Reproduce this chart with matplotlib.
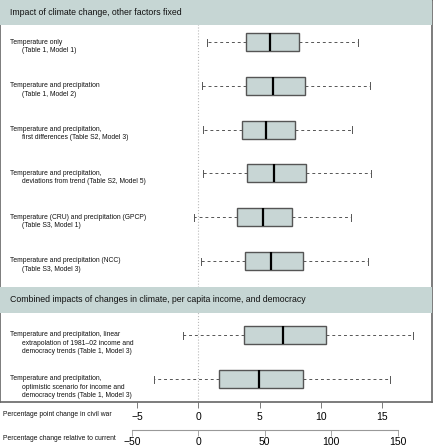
import matplotlib
matplotlib.use("Agg")
import matplotlib.pyplot as plt

plt.rcParams['font.family'] = ['Liberation Sans', 'DejaVu Sans']

headers = ["Impact of climate change, other factors fixed",
           "Combined impacts of changes in climate, per capita income, and democracy"]

labels = [
    "Temperature only\n(Table 1, Model 1)",
    "Temperature and precipitation\n(Table 1, Model 2)",
    "Temperature and precipitation,\nfirst differences (Table S2, Model 3)",
    "Temperature and precipitation,\ndeviations from trend (Table S2, Model 5)",
    "Temperature (CRU) and precipitation (GPCP)\n(Table S3, Model 1)",
    "Temperature and precipitation (NCC)\n(Table S3, Model 3)",
    "Temperature and precipitation, linear\nextrapolation of 1981\u201302 income and\ndemocracy trends (Table 1, Model 3)",
    "Temperature and precipitation,\noptimistic scenario for income and\ndemocracy trends (Table 1, Model 3)",
]

# percentage point change: whisker low, q1, median, q3, whisker high
wlo = [0.71, 0.31, 0.38, 0.38, -0.34, 0.19, -1.25, -3.62]
q1 = [3.88, 3.87, 3.53, 3.94, 3.16, 3.78, 3.74, 1.69]
med = [5.87, 6.10, 5.52, 6.17, 5.28, 5.95, 6.90, 4.96]
q3 = [8.22, 8.70, 7.86, 8.77, 7.62, 8.52, 10.40, 8.52]
whi = [13.06, 14.05, 12.58, 14.08, 12.50, 13.88, 17.50, 15.68]

pp_ticks = [-5, 0, 5, 10, 15]
pct_ticks = [-50, 0, 50, 100, 150]
pct_per_pp = 9.21  # 100% relative change ~ 10.86 pp

band = "#c6d6d4"
boxfill = "#c8d6d5"
edge = "#555555"

fig = plt.figure(figsize=(4.33, 4.47), dpi=100)
ax = fig.add_axes([0.0, 45 / 447, 431.5 / 433, 402 / 447])

# row layout in pixel-like units from the top
ypos = [42 + 43.8 * i for i in range(6)] + [335, 379]

stats = []
for i in range(len(labels)):
    stats.append(dict(whislo=wlo[i], q1=q1[i], med=med[i], q3=q3[i], whishi=whi[i], fliers=[]))

ax.bxp(stats, positions=ypos, widths=18, orientation='horizontal', showfliers=False,
       patch_artist=True, capwidths=7,
       boxprops=dict(facecolor=boxfill, edgecolor=edge, linewidth=1.0),
       medianprops=dict(color="black", linewidth=1.6),
       whiskerprops=dict(color=edge, linewidth=0.7, linestyle=(0, (3, 3))),
       capprops=dict(color=edge, linewidth=0.7))

ax.axvline(0, color="#bbbbbb", linestyle=":", linewidth=0.8, zorder=0)
ax.axhspan(0, 25, color=band, zorder=3, linewidth=0)
ax.axhspan(287, 313, color=band, zorder=3, linewidth=0)

ax.set_xlim(-16.2, 19.05)
ax.set_ylim(402, 0)
ax.set_yticks([])

tr = ax.get_yaxis_transform()
ax.text(0.023, 12.5, headers[0], transform=tr, fontsize=6.3, va="center", ha="left",
        zorder=4, color="#111111")
ax.text(0.023, 300, headers[1], transform=tr, fontsize=6.3, va="center", ha="left",
        zorder=4, color="#111111")

for y, lab in zip(ypos, labels):
    for k, line in enumerate(lab.split("\n")):
        x0 = 0.023 if k == 0 else 0.05
        ax.text(x0, y + 8.3 * k, line, transform=tr, fontsize=4.9,
                va="center", ha="left", color="#111111")

for s in ax.spines.values():
    s.set_color("#666666")
    s.set_linewidth(1.2)

ax.set_xticks(pp_ticks)
ax.set_xticklabels(["\u22125", "0", "5", "10", "15"])
ax.tick_params(axis="x", direction="out", length=4, width=0.6, color="#666666",
               labelsize=7.5, pad=3)

sec = ax.secondary_xaxis(-28 / 402, functions=(lambda x: x * pct_per_pp, lambda x: x / pct_per_pp))
sec.set_xticks(pct_ticks)
sec.set_xticklabels(["\u221250", "0", "50", "100", "150"])
sec.spines["bottom"].set_bounds(-50, 150)
sec.spines["bottom"].set_color("#999999")
sec.spines["bottom"].set_linewidth(0.8)
sec.tick_params(axis="x", direction="out", length=4, width=0.6, color="#999999",
                labelsize=7.5, pad=1)

fig.text(3 / 433, 1 - 415 / 447, "Percentage point change in civil war", fontsize=4.9,
         va="center", ha="left", color="#111111")
fig.text(3 / 433, 1 - 439 / 447, "Percentage change relative to current", fontsize=4.9,
         va="center", ha="left", color="#111111")

fig.savefig("out.png", dpi=100)
